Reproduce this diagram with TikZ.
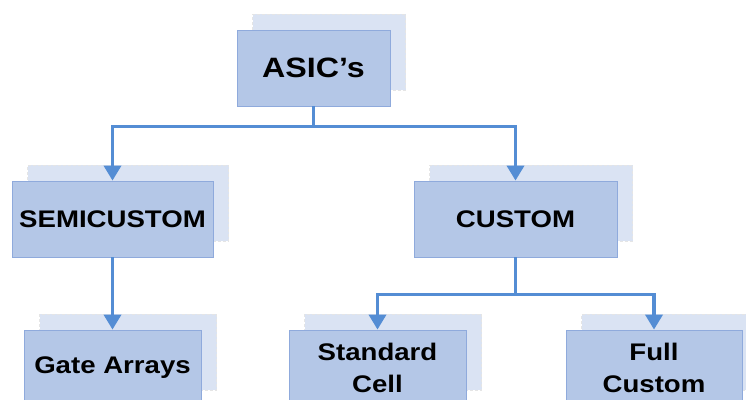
\documentclass[tikz,border=0pt]{standalone}
\usepackage{fontspec}
\setmainfont{Liberation Sans}[FakeStretch=1.15]
\usetikzlibrary{arrows.meta,shadows}
\definecolor{frontblue}{RGB}{180,199,231}
\definecolor{edgeblue}{RGB}{143,170,220}
\definecolor{backblue}{RGB}{218,227,243}
\definecolor{lineblue}{RGB}{84,141,212}
\begin{document}
\begin{tikzpicture}[x=10pt,y=10pt,
  box/.style={fill=frontblue,draw=edgeblue,line width=0.8pt,minimum height=76pt,inner sep=2pt,
    align=center,font=\bfseries\fontsize{24}{32}\selectfont,
    general shadow={fill=backblue,draw=black!10,densely dashed,thin,shadow xshift=15.5pt,shadow yshift=16pt}},
  conn/.style={draw=lineblue,line width=3.5pt,-{Triangle[width=17pt,length=15pt]}}]
\useasboundingbox (0,0) rectangle (74.6,39.9);
% top level
\node[box,minimum width=153pt,font=\bfseries\fontsize{28}{32}\selectfont] (asic) at (31.35,33.1) {ASIC's};
% second level
\node[box,minimum width=201pt] (semi) at (11.25,18.0) {SEMICUSTOM};
\node[box,minimum width=203pt] (custom) at (51.55,18.0) {CUSTOM};
% third level
\node[box,minimum width=177pt] (gate) at (11.25,3.1) {Gate Arrays};
\node[box,minimum width=177pt] (std) at (37.75,3.1) {Standard\\Cell};
\node[box,minimum width=176pt] (full) at (65.4,3.1) {Full\\Custom};
% connectors
\draw[conn] (asic.south) -- ++(0,-2) -| (semi.north);
\draw[conn] (asic.south) -- ++(0,-2) -| (custom.north);
\draw[conn] (semi.south) -- (gate.north);
\draw[conn] (custom.south) -- ++(0,-3.7) -| (std.north);
\draw[conn] (custom.south) -- ++(0,-3.7) -| (full.north);
\end{tikzpicture}
\end{document}
